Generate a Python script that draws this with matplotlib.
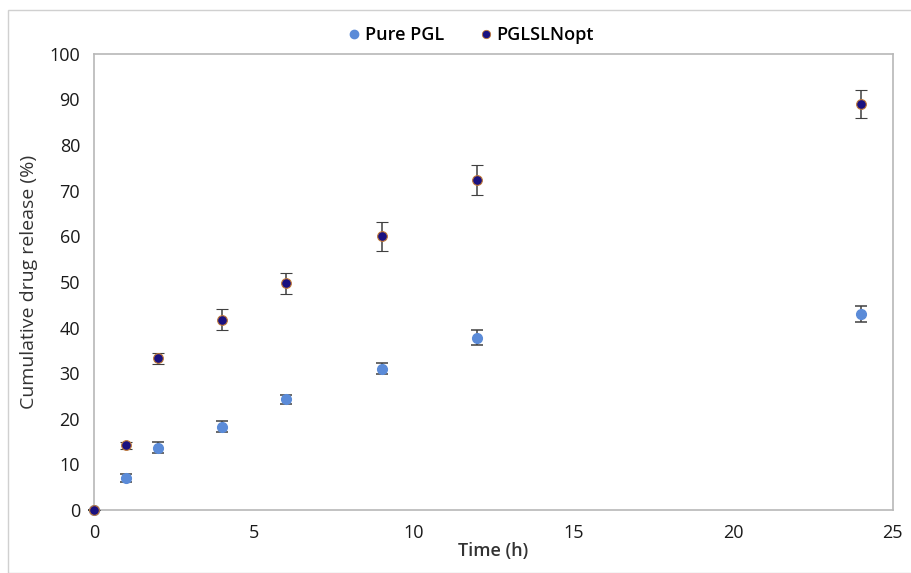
import matplotlib.pyplot as plt
from matplotlib.patches import Rectangle
from matplotlib.lines import Line2D

time_h = [0, 1, 2, 4, 6, 9, 12, 24]
pure_pgl = [0, 7.0, 13.6, 18.3, 24.3, 31.0, 37.8, 43.0]
pure_err = [0, 0.8, 1.2, 1.2, 1.0, 1.2, 1.6, 1.8]
pglsln = [0, 14.2, 33.3, 41.7, 49.7, 60.0, 72.4, 89.0]
pglsln_err = [0, 0.8, 1.2, 2.3, 2.3, 3.2, 3.3, 3.0]

plt.rcParams['font.family'] = ['Open Sans', 'DejaVu Sans']

fig = plt.figure(figsize=(9.12, 5.73), dpi=100)
ax = fig.add_axes([0.103, 0.110, 0.876, 0.796])

# outer chart frame
fig.patches.append(Rectangle((8/912, 0), 1, 1 - 10/573, transform=fig.transFigure,
                             fill=False, edgecolor='#d0d0d0', linewidth=1.0))

ax.errorbar(time_h, pure_pgl, yerr=pure_err, fmt='o', color='#5b8bd8',
            markersize=7, ecolor='#404040', elinewidth=1.1, capsize=4,
            capthick=1.1, zorder=3)
ax.errorbar(time_h, pglsln, yerr=pglsln_err, fmt='o', markerfacecolor='#1a1180',
            markeredgecolor='#c07a3a', markeredgewidth=0.8, markersize=7,
            ecolor='#404040', elinewidth=1.1, capsize=4, capthick=1.1, zorder=3)

ax.set_xlim(0, 25)
ax.set_ylim(0, 100)
ax.set_xticks(range(0, 26, 5))
ax.set_yticks(range(0, 101, 10))
ax.tick_params(length=0, labelsize=13, colors='#1a1a1a', pad=10)
for s in ax.spines.values():
    s.set_color('#b8b8b8')
    s.set_linewidth(1.2)
for c in ax.get_children():
    c.set_clip_on(False)

ax.set_xlabel('Time (h)', fontsize=13, fontweight='semibold', color='#333333', labelpad=0)
ax.set_ylabel('Cumulative drug release (%)', fontsize=14, color='#333333', labelpad=8)

handles = [Line2D([], [], ls='none', marker='o', color='#5b8bd8', markersize=6),
           Line2D([], [], ls='none', marker='o', markerfacecolor='#1a1180',
                  markeredgecolor='#c07a3a', markeredgewidth=0.6, markersize=6)]
ax.legend(handles, ['Pure PGL', 'PGLSLNopt'], loc='lower center',
          bbox_to_anchor=(0.47, 0.985), ncol=2, frameon=False,
          handletextpad=0.1, columnspacing=1.8, handlelength=1.0,
          prop={'weight': 'semibold', 'size': 13})

fig.savefig('out.png', dpi=100)
